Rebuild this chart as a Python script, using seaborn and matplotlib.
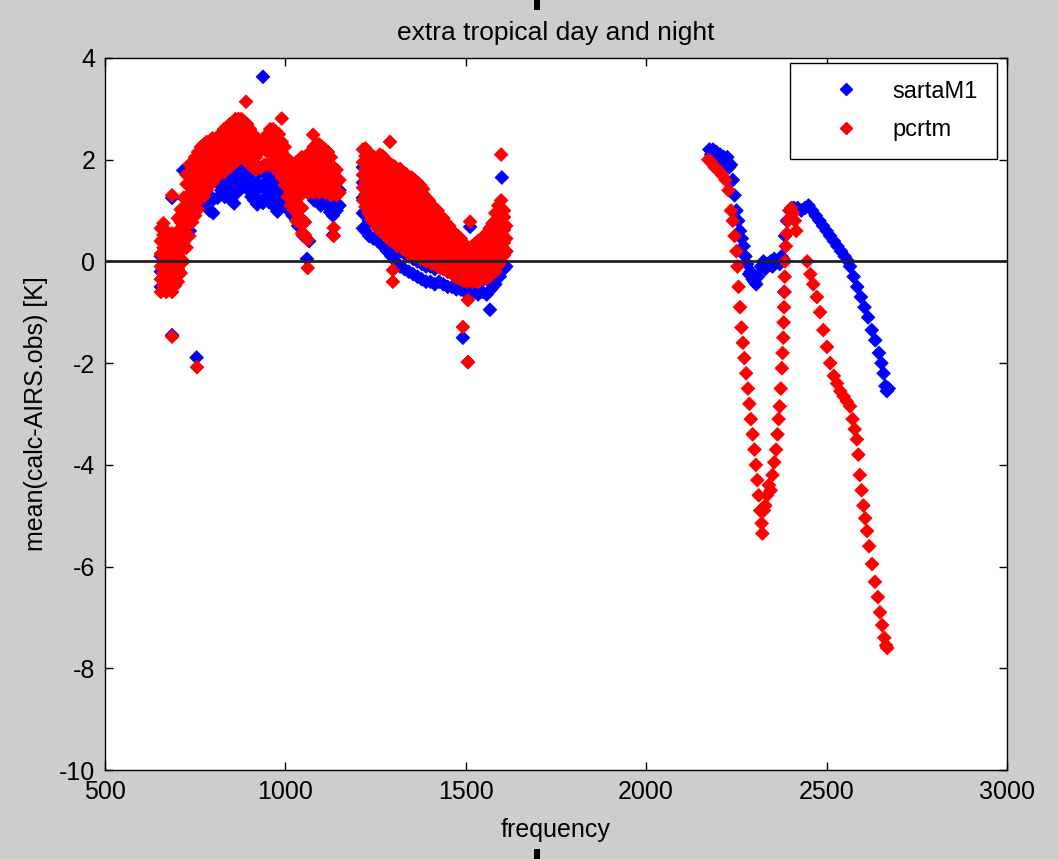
import numpy as np
import pandas as pd
import matplotlib
matplotlib.use("Agg")
import matplotlib.pyplot as plt
import seaborn as sns
from matplotlib.patches import Rectangle
from matplotlib.lines import Line2D

# ---------------- data ----------------
# long-wave band, columns: frequency -> values [K]
pcrtm_lw_freq = [655, 662, 670, 678, 686, 694, 702, 710, 718, 726, 734, 742, 750, 755, 758,
                 766, 774, 782, 790, 798, 806, 814, 822, 830, 838, 846, 854, 862, 870, 878,
                 886, 891, 894, 902, 910, 918, 926, 934, 942, 950, 958, 966, 974, 982, 990,
                 998, 1006, 1014, 1022, 1030, 1038, 1046, 1054, 1062, 1070, 1077, 1078, 1086,
                 1094, 1102, 1110, 1118, 1126, 1134, 1142, 1150]
pcrtm_lw_vals = [
    [-0.6, -0.35, -0.1, 0.15, 0.4, 0.65], [-0.48, -0.23, 0.02, 0.27, 0.52, 0.75],
    [-0.6, -0.35, -0.1, 0.15, 0.4, 0.6], [-0.48, -0.23, 0.02, 0.27, 0.52],
    [-0.6, -0.35, -0.1, 0.15, 0.4, 0.55, 1.3, -1.48], [-0.48, -0.23, 0.02, 0.27, 0.52],
    [-0.4, -0.15, 0.1, 0.35, 0.6, 0.85], [-0.23, 0.02, 0.27, 0.52, 0.77, 1.02],
    [0.0, 0.25, 0.5, 0.75, 1.0, 1.25], [0.27, 0.52, 0.77, 1.02, 1.27, 1.52, 1.7],
    [0.5, 0.75, 1.0, 1.25, 1.5, 1.75, 1.9], [0.77, 1.02, 1.27, 1.52, 1.77, 1.95],
    [0.9, 1.15, 1.4, 1.65, 1.9, 2.05], [-2.08], [1.02, 1.27, 1.52, 1.77, 2.02, 2.15],
    [1.25, 1.5, 1.75, 2.0, 2.25], [1.27, 1.52, 1.77, 2.02, 2.3], [1.4, 1.65, 1.9, 2.15, 2.35],
    [1.52, 1.77, 2.02, 2.27], [1.55, 1.8, 2.05, 2.3, 2.42], [1.64, 1.89, 2.14, 2.39],
    [1.7, 1.95, 2.2, 2.45], [1.77, 2.02, 2.27, 2.52], [1.75, 2.0, 2.25, 2.5, 2.6],
    [1.87, 2.12, 2.37, 2.62], [1.85, 2.1, 2.35, 2.6, 2.7], [1.95, 2.2, 2.45, 2.7],
    [1.95, 2.2, 2.45, 2.7, 2.8], [2.07, 2.32, 2.57, 2.8], [2.05, 2.3, 2.55, 2.8],
    [2.02, 2.27, 2.52, 2.75], [3.14], [1.95, 2.2, 2.45, 2.7], [1.9, 2.15, 2.4, 2.6],
    [1.85, 2.1, 2.35, 2.5], [1.8, 2.05, 2.3, 2.45], [1.85, 2.15, 2.37], [1.85, 2.2, 2.35],
    [1.9, 2.22, 2.42], [1.9, 2.15, 2.4, 2.5], [1.9, 2.15, 2.4, 2.6],
    [1.87, 2.12, 2.37, 2.6], [1.85, 2.1, 2.35, 2.55], [1.75, 2.0, 2.25, 2.5],
    [1.65, 1.9, 2.15, 2.35, 2.81], [1.5, 1.75, 2.0, 2.25], [1.27, 1.52, 1.77, 2.02],
    [1.1, 1.35, 1.6, 1.85, 1.95], [1.02, 1.27, 1.52, 1.77], [0.8, 1.05, 1.3, 1.55, 1.8, 1.95],
    [0.77, 1.02, 1.27, 1.52, 1.77, 2.0], [0.55, 0.8, 1.05, 1.45, 1.7, 1.95, 2.05],
    [0.52, 0.77, 1.4, 1.65, 1.9, 2.05], [0.42, -0.13, 1.35, 1.6, 1.85, 2.1],
    [1.4, 1.65, 1.9, 2.15], [2.49], [1.35, 1.6, 1.85, 2.1, 2.25], [1.4, 1.65, 1.9, 2.15, 2.3],
    [1.35, 1.6, 1.85, 2.1, 2.3], [1.4, 1.65, 1.9, 2.15, 2.25], [1.35, 1.6, 1.85, 2.1, 2.2],
    [1.4, 1.65, 1.9, 2.15], [1.3, 1.55, 1.8, 2.05], [1.4, 1.65, 1.85, 0.66, 0.5],
    [1.3, 1.55, 1.8], [1.35, 1.6]]

sarta_lw_freq = [655, 665, 675, 686, 695, 705, 717, 720, 735, 745, 754, 758, 770, 782, 790,
                 800, 812, 822, 832, 842, 850, 858, 866, 874, 882, 890, 898, 906, 914, 922,
                 930, 938, 946, 954, 962, 970, 978, 986, 994, 1002, 1010, 1020, 1035, 1050,
                 1060, 1066, 1080, 1090, 1098, 1106, 1115, 1124, 1132, 1142, 1150]
sarta_lw_vals = [
    [-0.5, -0.2, 0.1], [-0.4, -0.1, 0.2], [-0.45, -0.15], [-1.45, 1.25], [-0.3, 0.0],
    [-0.2, 0.2], [1.79], [0.3, 0.7], [0.6, 1.0], [0.9, 1.3], [-1.89], [1.1, 1.45],
    [1.15, 1.45], [1.2, 1.5], [1.0, 1.3, 1.55], [0.95, 1.22, 1.6], [1.25, 1.55],
    [1.4, 1.7, 1.95], [1.27, 1.57, 1.87], [1.35, 1.65], [1.2, 1.5, 1.8], [1.14, 1.42, 1.72],
    [1.35, 1.65, 1.95], [1.47, 1.77, 2.07], [1.6, 1.9, 2.2], [1.55, 1.85, 2.1],
    [1.4, 1.7, 1.95], [1.27, 1.57], [1.2, 1.5, 1.8], [1.12, 1.42, 1.72], [1.2, 1.5, 1.8],
    [1.15, 1.45, 1.75, 3.63], [1.25, 1.55, 1.85], [1.17, 1.47, 1.77], [1.15, 1.45, 1.75],
    [1.07, 1.37, 1.67], [0.98, 1.3, 1.6], [1.12, 1.42], [1.15, 1.45], [1.07, 1.37],
    [1.0, 1.3], [0.9, 1.2], [0.7, 1.0], [0.5, 0.8], [0.05], [0.4], [1.2, 1.5], [1.3, 1.6],
    [1.1, 1.4, 1.67], [1.2, 1.5], [1.1, 1.4], [0.97, 1.25, 1.5], [0.52, 0.9, 1.2],
    [1.0, 1.3], [1.1, 1.4]]

# band 1215-1615
pcrtm_mw_freq = [1215, 1222, 1230, 1238, 1246, 1254, 1262, 1270, 1278, 1286, 1290, 1294, 1298,
                 1302, 1310, 1318, 1326, 1334, 1342, 1350, 1358, 1366, 1374, 1382, 1390, 1398,
                 1406, 1414, 1422, 1430, 1438, 1446, 1454, 1462, 1470, 1478, 1486, 1492, 1494,
                 1502, 1506, 1510, 1512, 1518, 1526, 1534, 1542, 1550, 1558, 1566, 1574, 1582,
                 1590, 1598, 1606, 1612]
pcrtm_mw_vals = [
    [1.2, 1.45, 1.7, 1.95, 2.2], [1.07, 1.32, 1.57, 1.82, 2.07, 2.22],
    [0.95, 1.2, 1.45, 1.7, 1.95, 2.15], [0.82, 1.07, 1.32, 1.57, 1.82, 2.07],
    [0.8, 1.05, 1.3, 1.55, 1.8, 2.05], [0.67, 0.92, 1.17, 1.42, 1.67, 1.92],
    [0.6, 0.85, 1.1, 1.35, 1.6, 1.85, 2.1], [0.57, 0.82, 1.07, 1.32, 1.57, 1.82, 2.07],
    [0.5, 0.75, 1.0, 1.25, 1.5, 1.75, 2.0], [0.44, 0.69, 0.94, 1.19, 1.44, 1.69, 1.94], [2.35],
    [0.4, 0.65, 0.9, 1.15, 1.4, 1.65, 1.9], [-0.17, -0.4],
    [0.37, 0.62, 0.87, 1.12, 1.37, 1.62, 1.87], [0.3, 0.55, 0.8, 1.05, 1.3, 1.55, 1.8],
    [0.32, 0.57, 0.82, 1.07, 1.32, 1.57, 1.82], [0.25, 0.5, 0.75, 1.0, 1.25, 1.5, 1.75],
    [0.22, 0.47, 0.72, 0.97, 1.22, 1.47, 1.72], [0.15, 0.4, 0.65, 0.9, 1.15, 1.4, 1.65],
    [0.17, 0.42, 0.67, 0.92, 1.17, 1.42, 1.65], [0.1, 0.35, 0.6, 0.85, 1.1, 1.35, 1.6],
    [0.12, 0.37, 0.62, 0.87, 1.12, 1.37, 1.55], [0.05, 0.3, 0.55, 0.8, 1.05, 1.3, 1.5],
    [0.07, 0.32, 0.57, 0.82, 1.07, 1.32, 1.42], [0.0, 0.25, 0.5, 0.75, 1.0, 1.25],
    [0.02, 0.27, 0.52, 0.77, 1.02, 1.2], [-0.05, 0.2, 0.45, 0.7, 0.95, 1.1],
    [-0.03, 0.22, 0.47, 0.72, 0.97, 1.05], [-0.1, 0.15, 0.4, 0.65, 0.9, 1.0],
    [-0.13, 0.12, 0.37, 0.62, 0.87], [-0.15, 0.1, 0.35, 0.6, 0.85],
    [-0.18, 0.07, 0.32, 0.57, 0.75], [-0.2, 0.05, 0.3, 0.55, 0.7],
    [-0.23, 0.02, 0.27, 0.52, 0.6], [-0.3, -0.05, 0.2, 0.45, 0.55],
    [-0.33, -0.08, 0.17, 0.42, 0.5], [-0.35, -0.1, 0.15, 0.4, 0.45], [-1.29],
    [-0.38, -0.13, 0.12, 0.35], [-0.4, -0.15, 0.1, 0.3], [-0.76, -1.98],
    [-0.38, -0.13, 0.12, 0.25], [0.78], [-0.4, -0.15, 0.1, 0.3], [-0.38, -0.13, 0.12, 0.35],
    [-0.4, -0.15, 0.1, 0.35, 0.4], [-0.33, -0.08, 0.17, 0.42], [-0.35, -0.1, 0.15, 0.4, 0.5],
    [-0.33, -0.08, 0.17, 0.42, 0.55], [-0.3, -0.05, 0.2, 0.45, 0.65],
    [-0.23, 0.02, 0.27, 0.52, 0.75], [-0.2, 0.05, 0.3, 0.55, 0.8, 0.95],
    [-0.08, 0.17, 0.42, 0.67, 0.92, 1.1], [0.0, 0.25, 0.5, 0.75, 1.0, 1.2, 2.1],
    [0.12, 0.37, 0.62, 0.87, 1.0], [0.2, 0.45, 0.7]]

sarta_mw_freq = [1215, 1222, 1232, 1244, 1256, 1262, 1270, 1282, 1294, 1306, 1318, 1330, 1342,
                 1354, 1366, 1378, 1390, 1402, 1414, 1426, 1438, 1450, 1462, 1474, 1486, 1492,
                 1498, 1506, 1510, 1512, 1522, 1534, 1546, 1558, 1567, 1570, 1582, 1594, 1600,
                 1606, 1612]
sarta_mw_vals = [
    [0.65, 0.95, 1.25, 1.55, 1.85], [0.6, 0.9, 1.2, 1.5], [0.5, 0.8, 1.1], [0.45, 0.75],
    [0.4, 0.7], [0.42], [0.3, 0.6], [0.2, 0.5], [0.1, 0.4], [0.0, 0.3], [-0.1, 0.2],
    [-0.15, 0.15], [-0.2, 0.1], [-0.25, 0.05], [-0.3, 0.0], [-0.35, -0.05], [-0.4, -0.1],
    [-0.4, -0.1], [-0.45, -0.15], [-0.4, -0.1], [-0.45, -0.15], [-0.5, -0.2], [-0.5, -0.2],
    [-0.55, -0.25], [-0.55, -0.25], [-1.5], [-0.6, -0.3], [-1.98], [-0.6, -0.3], [0.68],
    [-0.6, -0.3], [-0.65, -0.35], [-0.6, -0.3], [-0.65, -0.35], [-0.95], [-0.55, -0.25],
    [-0.45, -0.15], [-0.3, 0.0, 0.3], [1.65], [-0.15, 0.15, 0.45], [-0.1, 0.2]]

# short-wave band (2170-2670)
sarta_sw_freq = [2175, 2180, 2185, 2190, 2195, 2200, 2205, 2210, 2215, 2220, 2225, 2230, 2235,
                 2240, 2245, 2250, 2255, 2260, 2265, 2270, 2275, 2280, 2285, 2290, 2295, 2300,
                 2305, 2310, 2318, 2325, 2330, 2335, 2345, 2350, 2355, 2365, 2370, 2375, 2380,
                 2383, 2385, 2390, 2398, 2405, 2410, 2420, 2430, 2440, 2450, 2460, 2470, 2480,
                 2490, 2500, 2510, 2520, 2530, 2540, 2550, 2560, 2565, 2575, 2585, 2595, 2605,
                 2615, 2625, 2635, 2645, 2652, 2658, 2663, 2667, 2672]
sarta_sw_vals = [2.2, 2.1, 2.2, 2.0, 2.15, 2.05, 2.1, 2.0, 2.05, 1.95, 2.05, 1.85, 1.9,
                 1.6, 1.3, 1.0, 0.8, 0.6, 0.45, 0.3, 0.1, -0.05, -0.25, -0.2, -0.35, -0.4,
                 -0.45, -0.3, -0.1, 0.0, -0.15, -0.05, 0.0, -0.1, 0.05, 0.0, -0.05, 0.1, 0.05,
                 -0.6, 0.5, 0.8, 1.0, 1.05, 1.05, 1.05, 1.0, 1.05, 1.1, 1.0, 0.9, 0.8,
                 0.7, 0.6, 0.5, 0.4, 0.3, 0.2, 0.1, 0.0, -0.1, -0.3, -0.5, -0.7, -0.9,
                 -1.1, -1.35, -1.55, -1.8, -2.0, -2.2, -2.45, -2.55, -2.5]

pcrtm_sw_freq = [2172, 2180, 2190, 2200, 2210, 2220, 2228, 2235, 2240, 2245, 2250, 2253, 2256,
                 2260, 2264, 2268, 2272, 2277, 2282, 2286, 2290, 2295, 2300, 2304, 2308, 2312,
                 2316, 2320, 2322, 2326, 2330, 2335, 2340, 2345, 2350, 2355, 2360, 2364, 2367,
                 2370, 2373, 2376, 2378, 2380, 2381, 2382, 2383, 2384, 2385, 2387, 2390, 2393,
                 2397, 2402, 2407, 2412, 2416,
                 2446, 2455, 2463, 2473, 2482, 2491, 2501, 2510, 2520, 2529, 2538, 2547, 2556,
                 2565, 2572, 2578, 2584, 2588, 2592, 2597, 2602, 2607, 2612, 2618, 2626, 2634,
                 2642, 2648, 2654, 2660, 2665, 2668]
pcrtm_sw_vals = [2.0, 1.95, 1.85, 1.8, 1.7, 1.6, 1.4, 1.0, 0.8, 0.5, 0.2, -0.1, -0.5,
                 -0.9, -1.3, -1.6, -1.9, -2.2, -2.5, -2.8, -3.1, -3.4, -3.7, -4.0, -4.3, -4.6,
                 -4.9, -5.15, -5.35, -4.9, -4.8, -4.6, -4.4, -4.5, -4.2, -3.95, -3.7, -3.4, -3.1,
                 -2.85, -2.5, -2.1, -1.8, -1.5, -1.2, -0.9, -0.6, -0.3, 0.0, 0.3, 0.55, 0.8,
                 1.0, 1.05, 0.95, 0.8, 0.6,
                 0.0, -0.25, -0.45, -0.7, -1.0, -1.35, -1.68, -2.0, -2.25, -2.4, -2.55, -2.65, -2.75,
                 -2.85, -3.1, -3.3, -3.5, -3.8, -4.2, -4.5, -4.8, -5.05, -5.3, -5.6, -5.95, -6.3,
                 -6.6, -6.9, -7.15, -7.4, -7.55, -7.6]

series_names = ["sartaM1", "pcrtm"]
series_colors = ["#0000ff", "#ff0000"]
x_ticks = [500, 1000, 1500, 2000, 2500, 3000]
y_ticks = [-10, -8, -6, -4, -2, 0, 2, 4]


def expand(freqs, vals):
    xs, ys = [], []
    for f, v in zip(freqs, vals):
        if isinstance(v, list):
            for yv in v:
                xs.append(f)
                ys.append(yv)
        else:
            xs.append(f)
            ys.append(v)
    return xs, ys


rows = []
for name, parts in [("sartaM1", [(sarta_lw_freq, sarta_lw_vals), (sarta_mw_freq, sarta_mw_vals),
                                 (sarta_sw_freq, sarta_sw_vals)]),
                    ("pcrtm", [(pcrtm_lw_freq, pcrtm_lw_vals), (pcrtm_mw_freq, pcrtm_mw_vals),
                               (pcrtm_sw_freq, pcrtm_sw_vals)])]:
    for fr, vv in parts:
        xs, ys = expand(fr, vv)
        for a, b in zip(xs, ys):
            rows.append({"frequency": a, "value": b, "model": name})
df = pd.DataFrame(rows)

# ---------------- style ----------------
plt.rcParams["font.family"] = ["Liberation Sans", "DejaVu Sans"]
plt.rcParams["axes.unicode_minus"] = False

fig = plt.figure(figsize=(10.58, 8.59), dpi=100, facecolor="#cdcdcd")
ax = fig.add_axes([0.0992, 0.1036, 0.8526, 0.8289])
ax.set_facecolor("white")

sns.scatterplot(data=df, x="frequency", y="value", hue="model", hue_order=series_names,
                palette=dict(zip(series_names, series_colors)), marker="D", s=48,
                linewidth=0.6, edgecolor="face", ax=ax, legend=False, zorder=2)

ax.axhline(0, color="#222222", lw=2.0, zorder=3)

ax.set_xlim(500, 3000)
ax.set_ylim(-10, 4)
ax.set_xticks(x_ticks)
ax.set_yticks(y_ticks)
ax.tick_params(direction="in", length=6, width=1, top=True, right=True,
               labelsize=18, pad=7, colors="black")
for sp in ax.spines.values():
    sp.set_linewidth(1.0)
    sp.set_color("black")

ax.set_title("extra tropical day and night", fontsize=19, pad=13)
ax.set_xlabel("frequency", fontsize=18, labelpad=10)
ax.set_ylabel("mean(calc-AIRS.obs) [K]", fontsize=18, labelpad=8)

# legend
handles = [Line2D([], [], ls="none", marker="D", markersize=6, color=c) for c in series_colors]
leg = ax.legend(handles, series_names, loc="upper left", bbox_to_anchor=(0.759, 0.993, 0.23, 0),
                mode="expand", borderaxespad=0, fontsize=17, handlelength=3.3,
                handletextpad=0.3, borderpad=0.75, labelspacing=0.7, fancybox=False,
                edgecolor="black", framealpha=1)
leg.get_frame().set_linewidth(1.0)

# small black marks at top and bottom centre of the figure
fig.add_artist(Rectangle((0.505, 0.988), 0.005, 0.012, transform=fig.transFigure,
                         color="black", lw=0))
fig.add_artist(Rectangle((0.505, 0.0), 0.005, 0.012, transform=fig.transFigure,
                         color="black", lw=0))

fig.savefig("out.png", dpi=100, facecolor=fig.get_facecolor())
